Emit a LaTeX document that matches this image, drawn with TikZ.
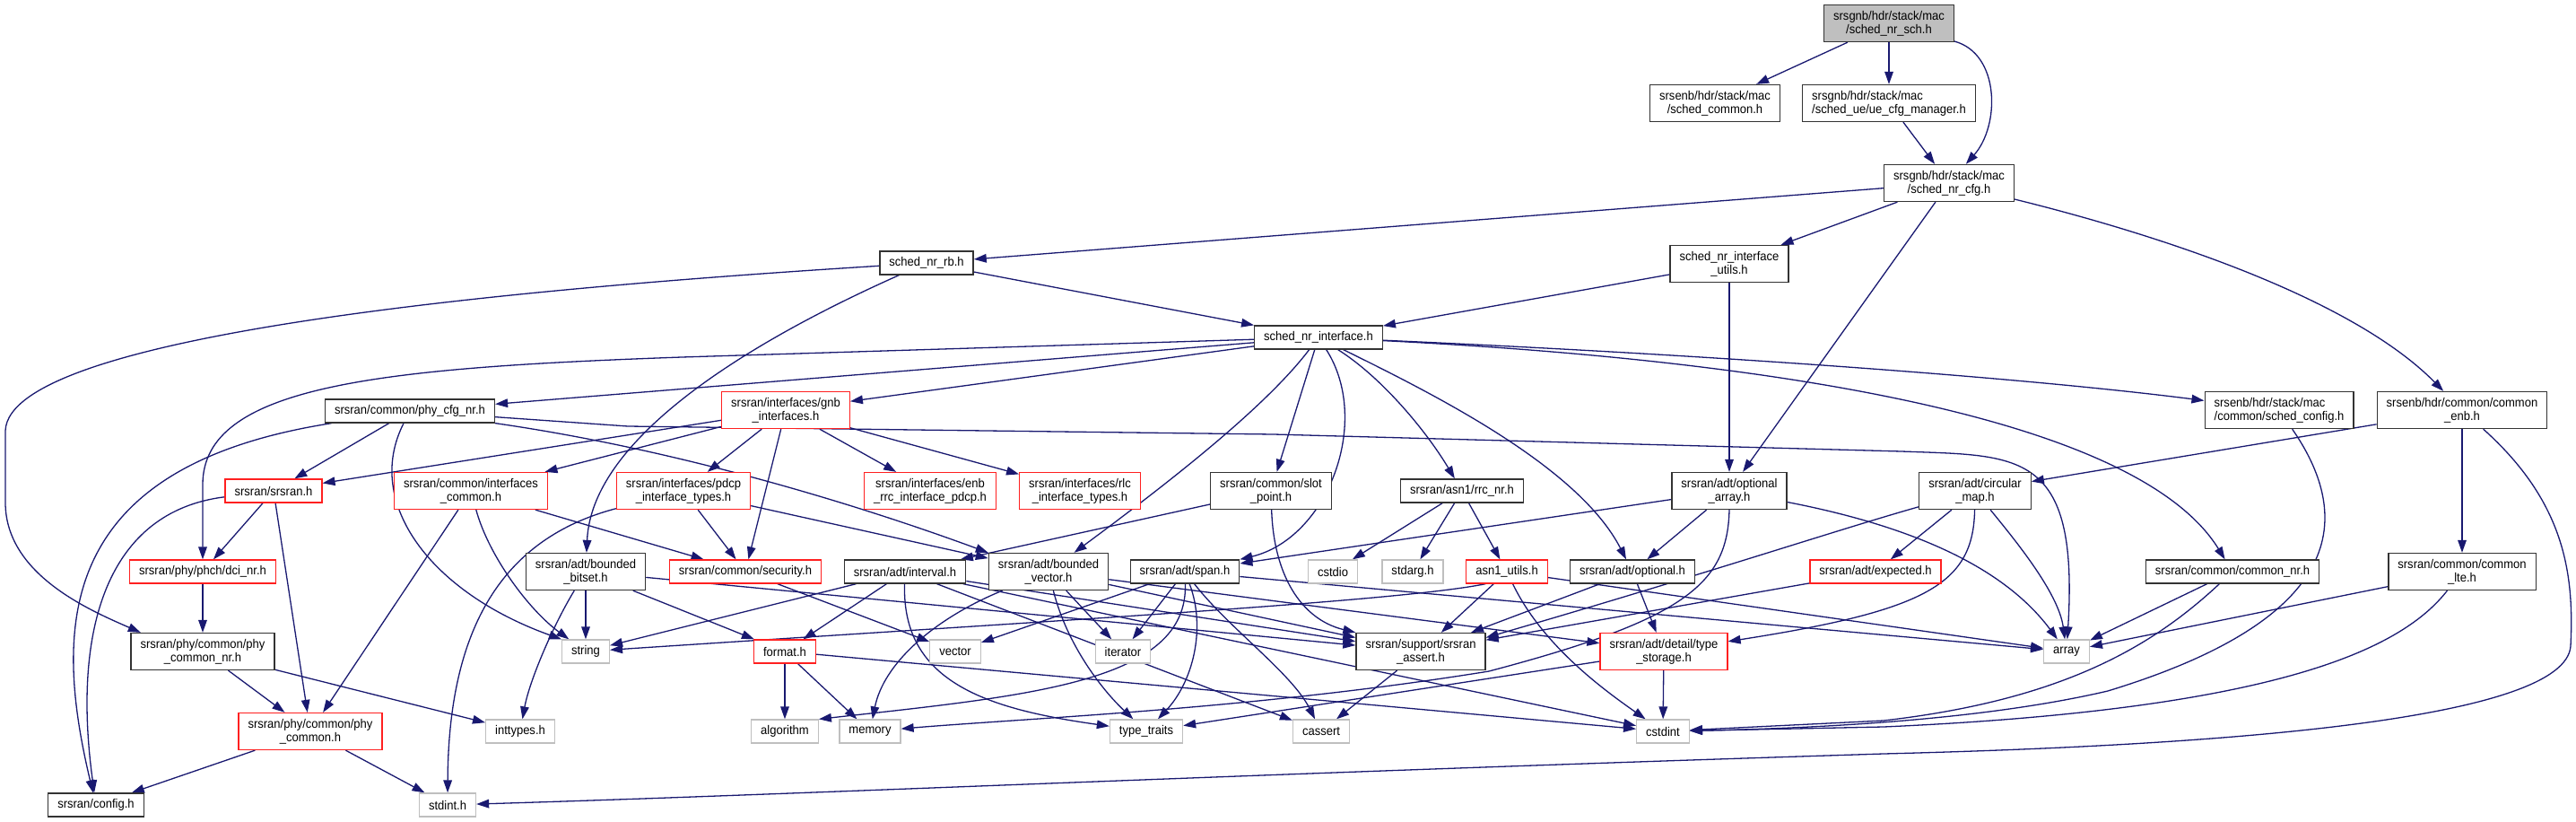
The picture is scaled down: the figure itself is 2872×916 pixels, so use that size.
\documentclass[tikz,border=0pt]{standalone}
\usepackage{fontspec}
\setmainfont[FakeStretch=0.93]{Liberation Sans}
\usepackage{tikz}
\usetikzlibrary{arrows.meta,backgrounds}
\definecolor{edgeblue}{HTML}{191970}
\definecolor{sysgray}{HTML}{BFBFBF}
\definecolor{truncred}{HTML}{FF2020}

\tikzset{
  filebox/.style={draw=black!80, fill=white, line width=0.65pt, inner xsep=5.25pt, inner ysep=1pt,
    minimum height=13pt, align=center, font=\fontsize{7}{7.5}\selectfont},
  twoline/.style={minimum height=20.5pt},
  redbox/.style={filebox, draw=truncred},
  sysbox/.style={filebox, draw=sysgray},
  rootbox/.style={filebox, fill=sysgray},
  dep/.style={draw=edgeblue, line width=0.65pt, -{Triangle[length=7pt,width=4.8pt]}}
}

\begin{document}
\begin{tikzpicture}[x=0.5pt,y=-0.5pt]
  \useasboundingbox (0,0) rectangle (2872,916);
  % Headers of the scheduler
  \node[rootbox, twoline] (sch) at (2106,26) {srsgnb/hdr/stack/mac\\/sched\_nr\_sch.h};
  \node[filebox, twoline] (common) at (1912,115) {srsenb/hdr/stack/mac\\/sched\_common.h};
  \node[filebox, twoline, align=left] (uecfg) at (2106,115) {srsgnb/hdr/stack/mac\\/sched\_ue/ue\_cfg\_manager.h};
  \node[filebox, twoline] (cfg) at (2173,204) {srsgnb/hdr/stack/mac\\/sched\_nr\_cfg.h};
  \node[filebox] (rb) at (1033,293) {sched\_nr\_rb.h};
  \node[filebox, twoline] (utils) at (1928,294) {sched\_nr\_interface\\\_utils.h};
  \node[filebox] (iface) at (1470,376) {sched\_nr\_interface.h};
  % Interfaces and common headers
  \node[filebox] (phycfg) at (457,458) {srsran/common/phy\_cfg\_nr.h};
  \node[redbox, twoline] (gnb) at (876,457) {srsran/interfaces/gnb\\\_interfaces.h};
  \node[filebox, twoline, align=left] (schedcfg) at (2541,457) {srsenb/hdr/stack/mac\\/common/sched\_config.h};
  \node[filebox, twoline] (enb) at (2745,457) {srsenb/hdr/common/common\\\_enb.h};
  \node[redbox] (srsran) at (305,547) {srsran/srsran.h};
  \node[redbox, twoline] (ifcommon) at (525,547) {srsran/common/interfaces\\\_common.h};
  \node[redbox, twoline] (pdcp) at (762,547) {srsran/interfaces/pdcp\\\_interface\_types.h};
  \node[redbox, twoline] (enbrrc) at (1037,547) {srsran/interfaces/enb\\\_rrc\_interface\_pdcp.h};
  \node[redbox, twoline] (rlc) at (1204,547) {srsran/interfaces/rlc\\\_interface\_types.h};
  \node[filebox, twoline] (slot) at (1417,547) {srsran/common/slot\\\_point.h};
  \node[filebox] (rrc) at (1630,547) {srsran/asn1/rrc\_nr.h};
  \node[filebox, twoline] (optarr) at (1928,547) {srsran/adt/optional\\\_array.h};
  \node[filebox, twoline] (circ) at (2202,547) {srsran/adt/circular\\\_map.h};
  % adt and phy headers
  \node[redbox] (dci) at (226,637) {srsran/phy/phch/dci\_nr.h};
  \node[filebox, twoline] (bitset) at (653,637) {srsran/adt/bounded\\\_bitset.h};
  \node[redbox] (security) at (831,637) {srsran/common/security.h};
  \node[filebox] (interval) at (1009,637) {srsran/adt/interval.h};
  \node[filebox, twoline] (bvec) at (1169,637) {srsran/adt/bounded\\\_vector.h};
  \node[filebox] (span) at (1321,637) {srsran/adt/span.h};
  \node[sysbox] (cstdio) at (1486,637) {cstdio};
  \node[sysbox] (stdarg) at (1575,637) {stdarg.h};
  \node[redbox] (asn1) at (1680,637) {asn1\_utils.h};
  \node[filebox] (opt) at (1820,637) {srsran/adt/optional.h};
  \node[redbox] (expected) at (2091,637) {srsran/adt/expected.h};
  \node[filebox] (commonnr) at (2489,637) {srsran/common/common\_nr.h};
  \node[filebox, twoline] (commonlte) at (2745,637) {srsran/common/common\\\_lte.h};
  \node[filebox, twoline] (phycnr) at (226,726) {srsran/phy/common/phy\\\_common\_nr.h};
  \node[sysbox] (string) at (653,726) {string};
  \node[redbox] (format) at (875,726) {format.h};
  \node[sysbox] (vector) at (1065,726) {vector};
  \node[sysbox] (iterator) at (1252,726) {iterator};
  \node[filebox, twoline] (assert) at (1584,726) {srsran/support/srsran\\\_assert.h};
  \node[redbox, twoline] (storage) at (1855,726) {srsran/adt/detail/type\\\_storage.h};
  \node[sysbox] (array) at (2304,726) {array};
  \node[redbox, twoline] (phycommon) at (346,815) {srsran/phy/common/phy\\\_common.h};
  \node[sysbox] (inttypes) at (580,815) {inttypes.h};
  \node[sysbox] (algorithm) at (875,815) {algorithm};
  \node[sysbox] (memory) at (970,815) {memory};
  \node[sysbox] (typetraits) at (1278,815) {type\_traits};
  \node[sysbox] (cassert) at (1473,815) {cassert};
  \node[sysbox] (cstdint) at (1854,815) {cstdint};
  \node[filebox] (config) at (107,897) {srsran/config.h};
  \node[sysbox] (stdint) at (499,897) {stdint.h};

  \begin{scope}[on background layer]
  % Top of the graph
  \draw[dep] (sch) -- (common);
  \draw[dep] (sch) -- (uecfg);
  \draw[dep] (sch) .. controls (2230,60) and (2230,140) .. (cfg);
  \draw[dep] (uecfg) -- (cfg);
  \draw[dep] (cfg) -- (rb);
  \draw[dep] (cfg) -- (utils);
  \draw[dep] (cfg) -- (optarr);
  \draw[dep] (cfg) .. controls (2400,260) and (2620,330) .. (enb);
  \draw[dep] (utils) -- (iface);
  \draw[dep] (utils) -- (optarr);
  \draw[dep] (rb) -- (iface);
  \draw[dep] (rb) .. controls (600,320) and (10,370) .. (6,480) -- (6,560) .. controls (6,640) and (100,680) .. (phycnr.163);
  \draw[dep] (rb) .. controls (860,370) and (660,480) .. (bitset);
  % sched_nr_interface.h
  \draw[dep] (iface) -- (phycfg);
  \draw[dep] (iface) -- (gnb);
  \draw[dep] (iface) -- (760,398) .. controls (420,410) and (226,430) .. (226,540) -- (dci);
  \draw[dep] (iface) .. controls (1410,455) and (1300,540) .. (bvec);
  \draw[dep] (iface) -- (slot);
  \draw[dep] (iface) .. controls (1530,470) and (1480,600) .. (span.north east);
  \draw[dep] (iface) .. controls (1540,420) and (1590,480) .. (rrc);
  \draw[dep] (iface) .. controls (1600,440) and (1760,520) .. (opt);
  \draw[dep] (iface) .. controls (1900,395) and (2250,420) .. (schedcfg);
  \draw[dep] (iface) .. controls (1950,400) and (2380,460) .. (commonnr);
  % phy_cfg_nr.h and gnb_interfaces.h
  \draw[dep] (phycfg) -- (srsran);
  \draw[dep] (phycfg) .. controls (60,520) and (60,700) .. (config);
  \draw[dep] (phycfg) .. controls (405,560) and (480,660) .. (string.north west);
  \draw[dep] (phycfg) .. controls (750,500) and (950,560) .. (bvec.north west);
  \draw[dep] (phycfg) -- (700,475) -- (1420,484) -- (2120,503) .. controls (2250,508) and (2318,500) .. (array);
  \draw[dep] (gnb) -- (srsran);
  \draw[dep] (gnb) -- (ifcommon);
  \draw[dep] (gnb) -- (pdcp);
  \draw[dep] (gnb) -- (security);
  \draw[dep] (gnb) -- (enbrrc);
  \draw[dep] (gnb) -- (rlc);
  \draw[dep] (srsran) -- (dci);
  \draw[dep] (srsran) -- (phycommon);
  \draw[dep] (srsran) .. controls (120,570) and (80,700) .. (config);
  \draw[dep] (ifcommon) -- (phycommon);
  \draw[dep] (ifcommon) .. controls (545,620) and (590,680) .. (string);
  \draw[dep] (ifcommon) -- (security);
  \draw[dep] (pdcp) .. controls (560,600) and (500,700) .. (stdint);
  \draw[dep] (pdcp) -- (security);
  \draw[dep] (pdcp) -- (bvec);
  % phy headers
  \draw[dep] (dci) -- (phycnr);
  \draw[dep] (phycnr) -- (phycommon);
  \draw[dep] (phycnr) -- (inttypes);
  \draw[dep] (phycommon) -- (config);
  \draw[dep] (phycommon) -- (stdint);
  % adt headers
  \draw[dep] (bitset) -- (string);
  \draw[dep] (bitset) .. controls (615,700) and (590,760) .. (inttypes);
  \draw[dep] (bitset) -- (format);
  \draw[dep] (bitset) -- (assert);
  \draw[dep] (slot) -- (interval);
  \draw[dep] (slot) .. controls (1420,640) and (1450,690) .. (assert.north west);
  \draw[dep] (rrc) -- (cstdio);
  \draw[dep] (rrc) -- (stdarg);
  \draw[dep] (rrc) -- (asn1);
  \draw[dep] (optarr) -- (span);
  \draw[dep] (optarr) -- (opt);
  \draw[dep] (optarr) .. controls (2150,590) and (2240,640) .. (array);
  \draw[dep] (optarr.south) .. controls (1926,650) and (1880,690) .. (1660,748) .. controls (1400,790) and (1150,800) .. (memory);
  \draw[dep] (circ) -- (expected);
  \draw[dep] (circ) .. controls (2200,650) and (2150,680) .. (storage);
  \draw[dep] (circ) .. controls (2245,600) and (2295,660) .. (array);
  \draw[dep] (circ) .. controls (2050,590) and (1900,640) .. (assert.12);
  \draw[dep] (expected) -- (assert.10);
  % right hand side
  \draw[dep] (enb) -- (circ);
  \draw[dep] (enb) -- (commonlte);
  \draw[dep] (enb) .. controls (2860,560) and (2870,640) .. (2866,720) .. controls (2860,800) and (2500,830) .. (2100,840) .. controls (1400,862) and (900,885) .. (stdint);
  \draw[dep] (schedcfg) .. controls (2640,600) and (2580,700) .. (2350,770) .. controls (2200,805) and (2000,812) .. (cstdint);
  \draw[dep] (commonnr) .. controls (2400,720) and (2300,780) .. (2100,803) -- (cstdint);
  \draw[dep] (commonnr) -- (array);
  \draw[dep] (commonlte) .. controls (2680,720) and (2550,790) .. (2100,810) -- (cstdint);
  \draw[dep] (commonlte) -- (array);
  % bottom rows
  \draw[dep] (security) -- (vector);
  \draw[dep] (interval) -- (format);
  \draw[dep] (interval) -- (string);
  \draw[dep] (interval) .. controls (1005,760) and (1100,790) .. (typetraits);
  \draw[dep] (interval) -- (cassert);
  \draw[dep] (interval) -- (assert);
  \draw[dep] (interval) -- (cstdint);
  \draw[dep] (bvec) .. controls (1040,690) and (985,740) .. (memory);
  \draw[dep] (bvec) -- (iterator);
  \draw[dep] (bvec) .. controls (1190,720) and (1230,770) .. (typetraits);
  \draw[dep] (bvec) -- (assert);
  \draw[dep] (bvec) -- (storage);
  \draw[dep] (span) -- (vector);
  \draw[dep] (span) -- (iterator);
  \draw[dep] (span) .. controls (1325,760) and (1150,775) .. (algorithm.north east);
  \draw[dep] (span) .. controls (1345,700) and (1330,760) .. (typetraits);
  \draw[dep] (span) .. controls (1370,700) and (1440,750) .. (cassert);
  \draw[dep] (span) -- (array);
  \draw[dep] (asn1.-150) .. controls (1560,670) and (1200,690) .. (string);
  \draw[dep] (asn1) -- (assert);
  \draw[dep] (asn1) .. controls (1720,720) and (1790,770) .. (cstdint);
  \draw[dep] (asn1) -- (array);
  \draw[dep] (opt) -- (assert);
  \draw[dep] (opt) -- (storage);
  \draw[dep] (format) -- (algorithm);
  \draw[dep] (format) -- (memory);
  \draw[dep] (format) -- (cstdint);
  \draw[dep] (assert) -- (cassert);
  \draw[dep] (storage) -- (cstdint);
  \draw[dep] (storage) -- (typetraits);
  \end{scope}
\end{tikzpicture}
\end{document}
